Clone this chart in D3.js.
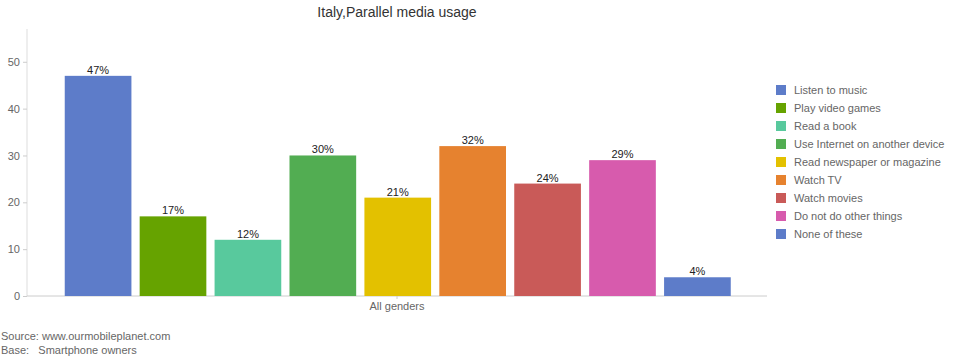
<!DOCTYPE html>
<html><head><meta charset="utf-8">
<script src="https://cdn.jsdelivr.net/npm/d3@7"></script>
<style>body{margin:0;background:#fff;font-family:"Liberation Sans",Arial,sans-serif}</style>
</head><body><svg id="c" width="958" height="358"></svg>
<script>
const title = "Italy,Parallel media usage";
const categories = ["All genders"];
const series = ["Listen to music","Play video games","Read a book","Use Internet on another device","Read newspaper or magazine","Watch TV","Watch movies","Do not do other things","None of these"];
const values = [47,17,12,30,21,32,24,29,4];
const colors = ["#5d7cc9","#66a300","#58c99d","#52ad52","#e3c100","#e6822f","#c95a58","#d75bad","#5d7cc9"];
const yTicks = [0,10,20,30,40,50];
const notes = ["Source: www.ourmobileplanet.com","Base:   Smartphone owners"];

const svg = d3.select("#c");
const y = d3.scaleLinear().domain([0,57]).range([296,29]);
const xc = d3.scaleBand().domain(categories).range([27,767]);
const xs = d3.scaleBand().domain(series).range([61,734.5]).paddingInner(0.11).paddingOuter(0.05);

svg.append("text").attr("x",397).attr("y",17).attr("text-anchor","middle")
  .attr("font-size",14).attr("fill","#333").text(title);

// y axis
const ya = svg.append("g").attr("transform","translate(27,0)")
  .call(d3.axisLeft(y).tickValues(yTicks).tickSize(4).tickPadding(3));
ya.select(".domain").attr("stroke","#ddd").attr("d","M0,29V296");
ya.selectAll(".tick line").attr("stroke","#ccc");
ya.selectAll(".tick text").attr("fill","#666").attr("font-size",11).attr("font-family","Liberation Sans, Arial, sans-serif");

// x axis
const xa = svg.append("g").attr("transform","translate(0,296)")
  .call(d3.axisBottom(xc).tickSize(3).tickPadding(3));
xa.select(".domain").attr("stroke","#ccc").attr("d","M27,0H767");
xa.selectAll(".tick line").attr("stroke","#ccc");
xa.selectAll(".tick text").attr("fill","#666").attr("font-size",11).attr("font-family","Liberation Sans, Arial, sans-serif");

svg.append("g").selectAll("rect").data(values).join("rect")
  .attr("x",(d,i)=>xs(series[i])).attr("width",xs.bandwidth())
  .attr("y",d=>y(d)).attr("height",d=>y(0)-y(d)).attr("fill",(d,i)=>colors[i]);

svg.append("g").selectAll("text").data(values).join("text")
  .attr("x",(d,i)=>xs(series[i])+xs.bandwidth()/2).attr("y",d=>y(d)-2)
  .attr("text-anchor","middle").attr("font-size",11).attr("fill","#222").text(d=>d+"%");

const lg = svg.append("g");
series.forEach((s,i)=>{
  lg.append("rect").attr("x",776).attr("y",85+i*18).attr("width",10).attr("height",10).attr("fill",colors[i]);
  lg.append("text").attr("x",794).attr("y",94+i*18).attr("font-size",11).attr("fill","#666").text(s);
});

notes.forEach((n,i)=>{
  svg.append("text").attr("x",1).attr("y",340+i*14).attr("font-size",11).attr("fill","#666")
   .attr("xml:space","preserve").style("white-space","pre").text(n);
});
</script></body></html>
